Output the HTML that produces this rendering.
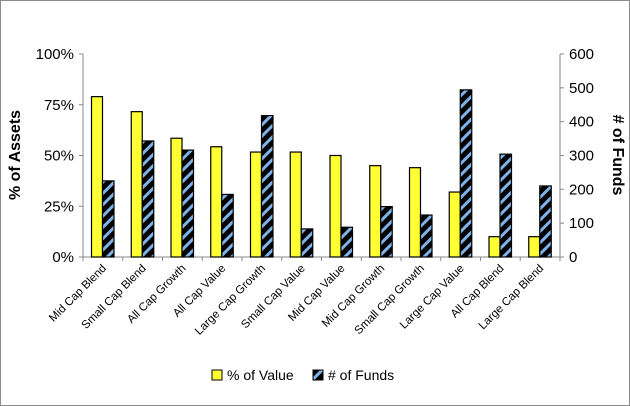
<!DOCTYPE html>
<html><head><meta charset="utf-8"><style>
html,body{margin:0;padding:0;background:#fff;}
svg{display:block;font-family:"Liberation Sans",sans-serif;}
</style></head><body>
<svg width="630" height="406" viewBox="0 0 630 406">
<defs>
<pattern id="hatch" patternUnits="userSpaceOnUse" width="8" height="8" patternTransform="rotate(45)">
<rect width="8" height="8" fill="#000"/>
<rect x="0" y="0" width="3" height="8" fill="#7fb2e8"/>
</pattern>
</defs>
<rect x="0.5" y="0.5" width="629" height="405" fill="#fff" stroke="#8c8c8c"/>
<g id="plot"></g>
<text transform="translate(20,155) rotate(-90)" text-anchor="middle" font-size="16" font-weight="bold">% of Assets</text>
<text transform="translate(613,155) rotate(90)" text-anchor="middle" font-size="16" font-weight="bold"># of Funds</text>
<g>
<rect x="212" y="370" width="10" height="10" fill="#ffff33" stroke="#000"/>
<text x="227" y="380" font-size="14">% of Value</text>
<rect x="313" y="370" width="10" height="10" fill="url(#hatch)" stroke="#000"/>
<text x="328" y="380" font-size="14"># of Funds</text>
</g>
</svg>
<script>
const categories=["Mid Cap Blend","Small Cap Blend","All Cap Growth","All Cap Value","Large Cap Growth","Small Cap Value","Mid Cap Value","Mid Cap Growth","Small Cap Growth","Large Cap Value","All Cap Blend","Large Cap Blend"];
const pctValue=[79,71.6,58.5,54.3,51.7,51.7,50,45,44,32,10,10];
const numFunds=[225,343,316,185,418,83,88,149,124,494,304,210];
const leftTicks=["0%","25%","50%","75%","100%"];
const rightTicks=["0","100","200","300","400","500","600"];
const NS="http://www.w3.org/2000/svg";
const g=document.getElementById('plot');
const X0=83,X1=560,Y0=257,Y1=54;
const band=(X1-X0)/categories.length;
const yL=v=>Y0-(v/100)*(Y0-Y1);
const yR=v=>Y0-(v/600)*(Y0-Y1);
function mk(t,a){const e=document.createElementNS(NS,t);for(const k in a)e.setAttribute(k,a[k]);g.appendChild(e);return e;}
let e;
e=mk('line',{x1:X0,y1:Y1,x2:X0,y2:Y0,stroke:'#888'});


e=mk('line',{x1:X1,y1:Y1,x2:X1,y2:Y0,stroke:'#888'});


e=mk('line',{x1:X0,y1:Y0,x2:X1,y2:Y0,stroke:'#888'});


leftTicks.forEach((t,i)=>{const y=yL(i*25);
mk('line',{x1:X0-4,y1:y,x2:X0,y2:y,stroke:'#888'});
e=mk('text',{x:X0-9,y:y+5,'text-anchor':'end','font-size':15});e.textContent=t;

});
rightTicks.forEach((t,i)=>{const y=yR(i*100);
mk('line',{x1:X1,y1:y,x2:X1+4,y2:y,stroke:'#888'});
e=mk('text',{x:X1+9,y:y+5,'font-size':15});e.textContent=t;

});
categories.forEach((c,i)=>{const bx=X0+i*band;
mk('line',{x1:bx,y1:Y0,x2:bx,y2:Y0+4,stroke:'#888'});
e=mk('rect',{x:bx+8.5,y:yL(pctValue[i]),width:11,height:Y0-yL(pctValue[i]),fill:'#ffff33',stroke:'#000','stroke-width':1.2});


e=mk('rect',{x:bx+19.5,y:yR(numFunds[i]),width:11.5,height:Y0-yR(numFunds[i]),fill:'url(#hatch)',stroke:'#000','stroke-width':1.2});


const lx=bx+band/2+4,ly=Y0+12;
e=mk('text',{x:lx,y:ly,'text-anchor':'end','font-size':11.5,transform:`rotate(-45 ${lx} ${ly})`});e.textContent=c;

});
mk('line',{x1:X1,y1:Y0,x2:X1,y2:Y0+4,stroke:'#888'});
</script>
</body></html>
